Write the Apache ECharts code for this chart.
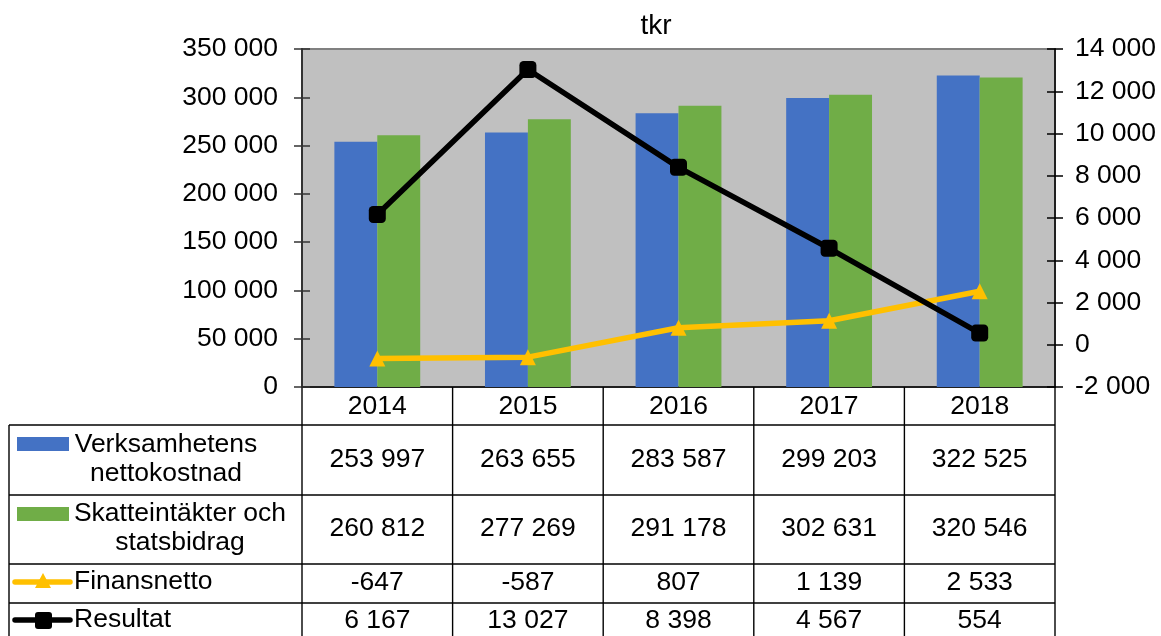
<!DOCTYPE html>
<html>
<head>
<meta charset="utf-8">
<script src="https://cdn.jsdelivr.net/npm/echarts@6/dist/echarts.min.js"></script>
<style>
  html, body { margin: 0; padding: 0; background: #fff; }
  #chart { width: 1161px; height: 636px; }
</style>
</head>
<body>
<div id="chart"></div>
<script>
const years = ["2014", "2015", "2016", "2017", "2018"];
const verksamhet = [253997, 263655, 283587, 299203, 322525];
const skatt = [260812, 277269, 291178, 302631, 320546];
const finansnetto = [-647, -587, 807, 1139, 2533];
const resultat = [6167, 13027, 8398, 4567, 554];
const seriesNames = ["Verksamhetens\nnettokostnad", "Skatteintäkter och\nstatsbidrag", "Finansnetto", "Resultat"];

const FONT = "'Liberation Sans', Arial, sans-serif";
const FS = 26.5;
const BLUE = "#4472C4", GREEN = "#70AD47", GOLD = "#FFC000";

// svensk tusentalsavgränsare
function fmt(n) {
  const s = String(Math.abs(n)).replace(/\B(?=(\d{3})+(?!\d))/g, " ");
  return (n < 0 ? "-" : "") + s;
}

const chart = echarts.init(document.getElementById("chart"));

const gridBox = { left: 302, top: 49, right: 106, bottom: 249 };
const option = {
  animation: false,
  title: {
    text: "tkr", left: 651, top: 7, textAlign: "center",
    textStyle: { fontFamily: FONT, fontSize: 28, fontWeight: "normal", color: "#000" }
  },
  grid: Object.assign({
    show: true, backgroundColor: "#C0C0C0", borderColor: "#808080", borderWidth: 2
  }, gridBox),
  xAxis: {
    type: "category", data: years,
    axisLine: { lineStyle: { color: "#000", width: 1.5 } },
    axisTick: { show: false },
    axisLabel: { margin: 5, color: "#000", fontFamily: FONT, fontSize: FS, lineHeight: 30 }
  },
  yAxis: [
    {
      type: "value", min: 0, max: 350000, interval: 50000,
      axisLine: { show: true, lineStyle: { color: "#333", width: 2 } },
      axisTick: { show: true, length: 8, lineStyle: { color: "#333", width: 1.5 } },
      splitLine: { show: false },
      axisLabel: { margin: 24, color: "#000", fontFamily: FONT, fontSize: FS, formatter: fmt }
    },
    {
      type: "value", min: -2000, max: 14000, interval: 2000, position: "right",
      axisLine: { show: true, lineStyle: { color: "#000", width: 1.5 } },
      axisTick: { show: true, length: 8, lineStyle: { color: "#000", width: 1.5 } },
      splitLine: { show: false },
      axisLabel: { margin: 20, color: "#000", fontFamily: FONT, fontSize: FS, formatter: fmt }
    },
    {
      // inre tickmarkeringar vänster
      type: "value", min: 0, max: 350000, interval: 50000, position: "left",
      axisLine: { show: false },
      axisTick: { show: true, inside: true, length: 8, lineStyle: { color: "#333", width: 1.5 } },
      splitLine: { show: false }, axisLabel: { show: false }
    },
    {
      type: "value", min: -2000, max: 14000, interval: 2000, position: "right",
      axisLine: { show: false },
      axisTick: { show: true, inside: true, length: 8, lineStyle: { color: "#000", width: 1.5 } },
      splitLine: { show: false }, axisLabel: { show: false }
    }
  ],
  series: [
    {
      name: seriesNames[0], type: "bar", data: verksamhet,
      itemStyle: { color: BLUE }, barGap: "0%", barCategoryGap: "43%"
    },
    {
      name: seriesNames[1], type: "bar", data: skatt,
      itemStyle: { color: GREEN }
    },
    {
      name: seriesNames[2], type: "line", yAxisIndex: 1, data: finansnetto,
      lineStyle: { color: GOLD, width: 5.5 }, itemStyle: { color: GOLD },
      symbol: "triangle", symbolSize: 16, z: 5
    },
    {
      name: seriesNames[3], type: "line", yAxisIndex: 1, data: resultat,
      lineStyle: { color: "#000", width: 5.5 }, itemStyle: { color: "#000" },
      symbol: "roundRect", symbolSize: 17, z: 6
    }
  ]
};
chart.setOption(option);

// datatabell under diagrammet
function buildTable() {
  const c0 = chart.convertToPixel({ xAxisIndex: 0 }, years[0]);
  const c1 = chart.convertToPixel({ xAxisIndex: 0 }, years[1]);
  const w = c1 - c0;
  const xs = years.map(y => chart.convertToPixel({ xAxisIndex: 0 }, y));
  const tableLeft = 9;
  const plotBottom = 636 - gridBox.bottom;
  const rowLines = [425, 495, 564, 603];
  const rowCenters = [460, 529, 583, 621];
  const right = xs[xs.length - 1] + w / 2;
  const lineStyle = { stroke: "#000", lineWidth: 1.4 };
  const els = [];

  rowLines.forEach(y => {
    els.push({ type: "line", shape: { x1: tableLeft, y1: y, x2: right, y2: y }, style: lineStyle });
  });
  els.push({ type: "line", shape: { x1: tableLeft, y1: rowLines[0], x2: tableLeft, y2: 640 }, style: lineStyle });
  for (let i = 0; i <= years.length; i++) {
    const x = xs[0] - w / 2 + i * w;
    els.push({ type: "line", shape: { x1: x, y1: plotBottom, x2: x, y2: 640 }, style: lineStyle });
  }

  const rows = [verksamhet, skatt, finansnetto, resultat];
  rows.forEach((vals, r) => {
    vals.forEach((v, i) => {
      els.push({
        type: "text", x: xs[i], y: rowCenters[r],
        style: { text: fmt(v), fill: "#000", font: FS + "px " + FONT, align: "center", verticalAlign: "middle" }
      });
    });
  });

  // förklaringar
  els.push({ type: "rect", shape: { x: 17, y: 437, width: 52, height: 14 }, style: { fill: BLUE } });
  els.push({ type: "rect", shape: { x: 17, y: 507, width: 52, height: 14 }, style: { fill: GREEN } });
  els.push({ type: "line", shape: { x1: 15, y1: 582, x2: 70, y2: 582 }, style: { stroke: GOLD, lineWidth: 5.5, lineCap: "round" } });
  els.push({ type: "polygon", shape: { points: [[43, 573], [51, 588], [35, 588]] }, style: { fill: GOLD } });
  els.push({ type: "line", shape: { x1: 15, y1: 620, x2: 70, y2: 620 }, style: { stroke: "#000", lineWidth: 5.5, lineCap: "round" } });
  els.push({ type: "rect", shape: { x: 35, y: 612, width: 17, height: 17, r: 3 }, style: { fill: "#000" } });

  const labelPos = [[166, 459, "center"], [180, 528, "center"], [74, 582, "left"], [74, 620, "left"]];
  seriesNames.forEach((name, r) => {
    els.push({
      type: "text", x: labelPos[r][0], y: labelPos[r][1],
      style: { text: name, fill: "#000", font: FS + "px " + FONT, lineHeight: 29, align: labelPos[r][2], verticalAlign: "middle" }
    });
  });

  chart.setOption({ graphic: { elements: els } });
}
buildTable();
</script>
</body>
</html>
